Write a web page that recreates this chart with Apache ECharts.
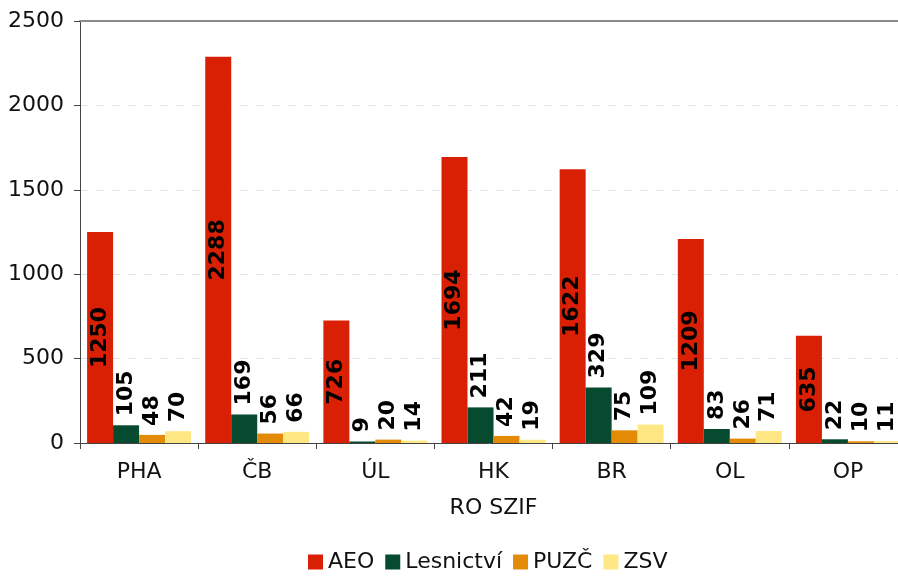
<!DOCTYPE html>
<html>
<head>
<meta charset="utf-8">
<script src="https://cdn.jsdelivr.net/npm/echarts@6/dist/echarts.min.js"></script>
<style>
  html, body { margin: 0; padding: 0; background: #fff; }
  #chart { width: 898px; height: 578px; }
</style>
</head>
<body>
<div id="chart"></div>
<script>
const categories = ['PHA', 'ČB', 'ÚL', 'HK', 'BR', 'OL', 'OP'];
const aeo = [1250, 2288, 726, 1694, 1622, 1209, 635];
const lesnictvi = [105, 169, 9, 211, 329, 83, 22];
const puzc = [48, 56, 20, 42, 75, 26, 10];
const zsv = [70, 66, 14, 19, 109, 71, 11];

const font = 'DejaVu Sans, Verdana, sans-serif';
const fs = 22;

const outsideLabel = {
  show: true,
  position: 'top',
  rotate: 90,
  align: 'left',
  verticalAlign: 'middle',
  distance: 9,
  color: '#000',
  fontFamily: font,
  fontWeight: 'bold',
  fontSize: fs
};

const chart = echarts.init(document.getElementById('chart'));
chart.setOption({
  animation: false,
  textStyle: { fontFamily: font },
  grid: { left: 80, top: 21, width: 827, height: 422, outerBoundsMode: 'none', containLabel: false },
  legend: {
    bottom: 0,
    left: 303,
    itemWidth: 15,
    itemHeight: 15,
    itemGap: 11,
    icon: 'rect',
    textStyle: { fontSize: fs, color: '#111', fontFamily: font }
  },
  xAxis: [
    {
      type: 'category',
      data: categories,
      name: 'RO SZIF',
      nameLocation: 'middle',
      nameGap: 54,
      nameTextStyle: { fontSize: fs, color: '#111', fontFamily: font },
      axisLine: { lineStyle: { color: '#444', width: 1 } },
      axisTick: { show: true, length: 6, lineStyle: { color: '#444' } },
      axisLabel: { fontSize: fs, color: '#111', margin: 18, fontFamily: font }
    },
    {
      type: 'category',
      position: 'top',
      data: categories,
      axisLine: { show: true, lineStyle: { color: '#8a8a8a', width: 2 } },
      axisTick: { show: false },
      axisLabel: { show: false }
    }
  ],
  yAxis: {
    type: 'value',
    min: 0,
    max: 2500,
    interval: 500,
    axisLine: { show: true, lineStyle: { color: '#444' } },
    axisTick: { show: true, length: 6, lineStyle: { color: '#444' } },
    axisLabel: { fontSize: fs, color: '#111', margin: 16, fontFamily: font, formatter: v => String(v) },
    splitLine: { show: true, lineStyle: { color: '#e2e6e6', type: [8, 8] } }
  },
  series: [
    {
      name: 'AEO', type: 'bar', data: aeo,
      barGap: '0%', barCategoryGap: '12%',
      itemStyle: { color: '#D92005' },
      label: { show: true, position: 'inside', rotate: 90, color: '#000', fontFamily: font, fontWeight: 'bold', fontSize: fs }
    },
    {
      name: 'Lesnictví', type: 'bar', data: lesnictvi,
      itemStyle: { color: '#064B2F' },
      label: outsideLabel
    },
    {
      name: 'PUZČ', type: 'bar', data: puzc,
      itemStyle: { color: '#E38B07' },
      label: outsideLabel
    },
    {
      name: 'ZSV', type: 'bar', data: zsv,
      itemStyle: { color: '#FFE784' },
      label: outsideLabel
    }
  ]
});
</script>
</body>
</html>
